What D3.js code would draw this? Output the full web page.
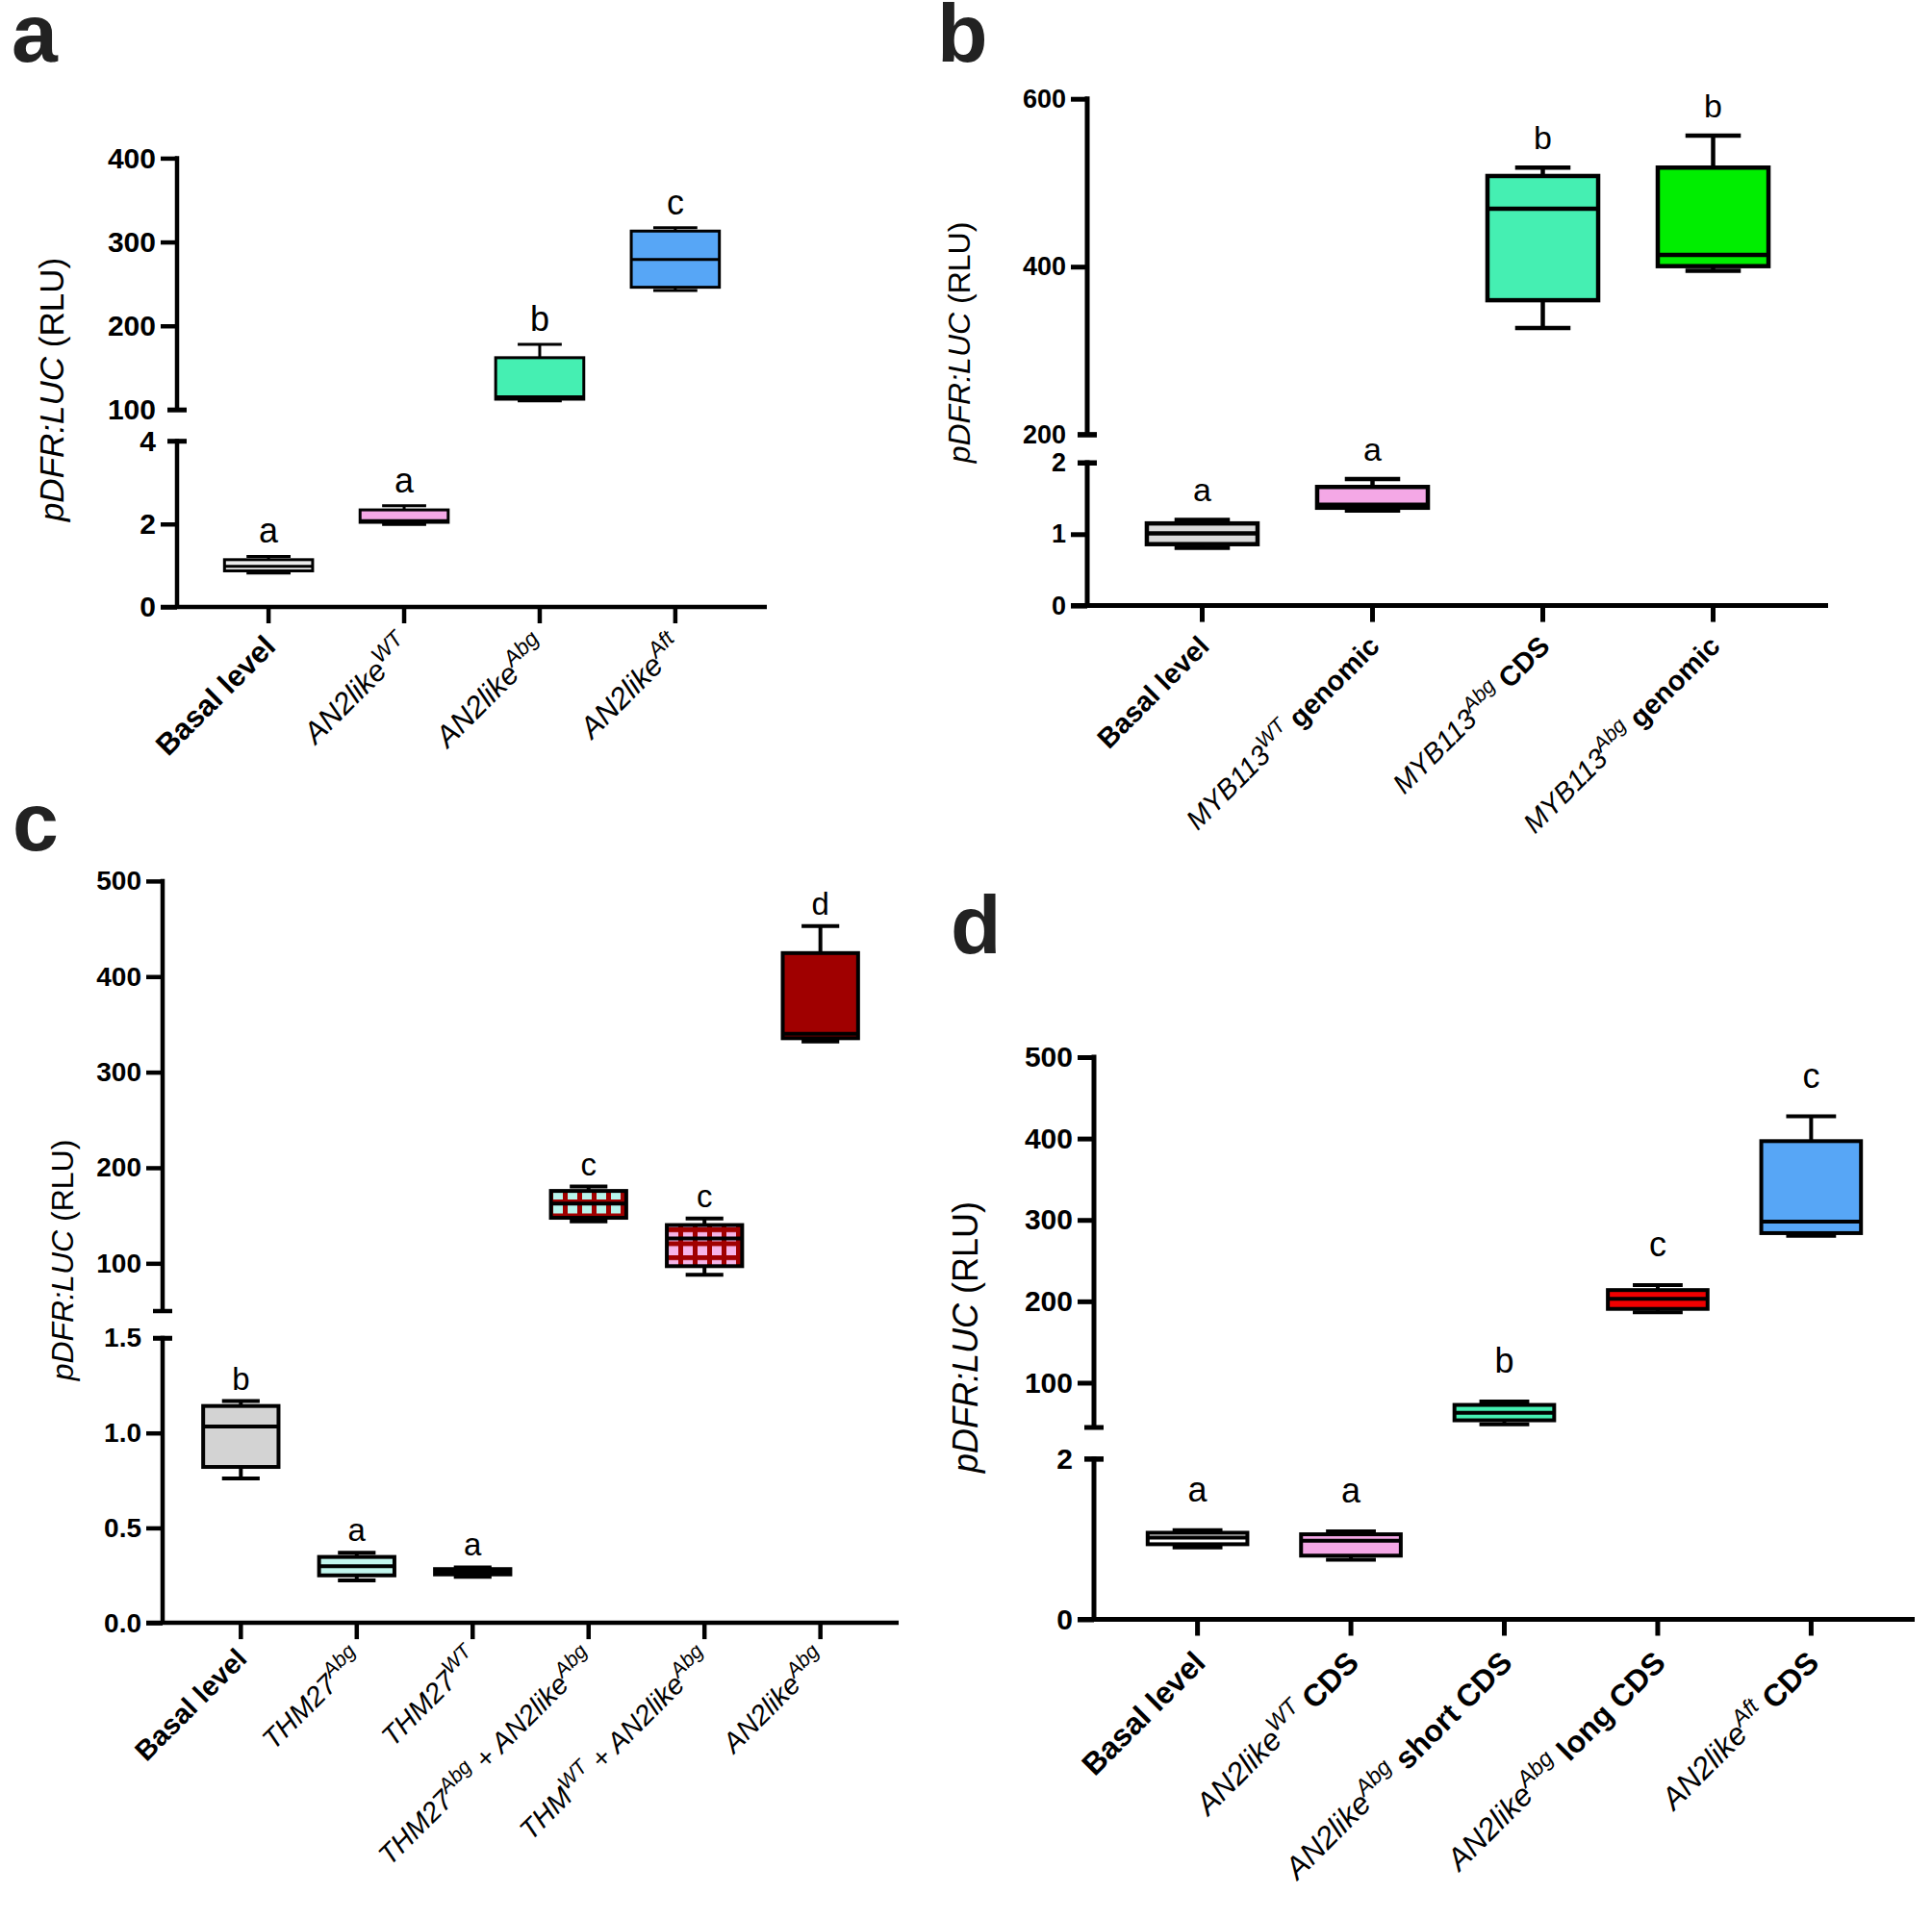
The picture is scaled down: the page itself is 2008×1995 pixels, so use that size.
<!DOCTYPE html>
<html>
<head>
<meta charset="utf-8">
<script src="https://cdn.jsdelivr.net/npm/d3@7"></script>
<style>
body { margin: 0; background: #fff; }
svg { display: block; }
text { font-family: "Liberation Sans", Arial, sans-serif; white-space: pre; }
</style>
</head>
<body>
<svg id="fig" width="2008" height="1995"></svg>
<script>
// ---- panel a data ----
var aLabels = ["<b>Basal level</b>", "<i>AN2like</i><sup>WT</sup>", "<i>AN2like</i><sup>Abg</sup>", "<i>AN2like</i><sup>Aft</sup>"];
var aMin = [0.82, 1.99, 110.5, 242];
var aQ1 = [0.87, 2.04, 112.5, 246];
var aMed = [0.98, 2.08, 115.5, 279];
var aQ3 = [1.14, 2.34, 162, 313];
var aMax = [1.22, 2.44, 178, 317];
var aLetters = ["a", "a", "b", "c"];
var aUpperTicks = [100, 200, 300, 400];
var aLowerTicks = [0, 2, 4];

// ---- panel b data ----
var bLabels = ["<b>Basal level</b>", "<i>MYB113</i><sup>WT</sup><b> genomic</b>", "<i>MYB113</i><sup>Abg</sup><b> CDS</b>", "<i>MYB113</i><sup>Abg</sup><b> genomic</b>"];
var bMin = [0.81, 1.33, 327, 395];
var bQ1 = [0.86, 1.37, 360, 400.6];
var bMed = [1.01, 1.41, 469, 414];
var bQ3 = [1.15, 1.66, 508, 518];
var bMax = [1.2, 1.77, 518, 556];
var bLetters = ["a", "a", "b", "b"];
var bUpperTicks = [200, 400, 600];
var bLowerTicks = [0, 1, 2];

// ---- panel c data ----
var cLabels = ["<b>Basal level</b>", "<i>THM27</i><sup>Abg</sup>", "<i>THM27</i><sup>WT</sup>", "<i>THM27</i><sup>Abg</sup><i> + AN2like</i><sup>Abg</sup>", "<i>THM</i><sup>WT</sup><i> + AN2like</i><sup>Abg</sup>", "<i>AN2like</i><sup>Abg</sup>"];
var cMin = [0.761, 0.224, 0.243, 143.8, 88, 332];
var cQ1 = [0.821, 0.25, 0.255, 147.6, 97, 335.5];
var cMed = [1.034, 0.298, 0.27, 162.4, 126, 340];
var cQ3 = [1.142, 0.347, 0.283, 175.7, 140, 424.6];
var cMax = [1.168, 0.369, 0.292, 180.3, 146.8, 452.8];
var cLetters = ["b", "a", "a", "c", "c", "d"];
var cUpperTicks = [100, 200, 300, 400, 500];
var cLowerTicks = [0, 0.5, 1.0, 1.5];

// ---- panel d data ----
var dLabels = ["<b>Basal level</b>", "<i>AN2like</i><sup>WT</sup><b> CDS</b>", "<i>AN2like</i><sup>Abg</sup><b> short CDS</b>", "<i>AN2like</i><sup>Abg</sup><b> long CDS</b>", "<i>AN2like</i><sup>Aft</sup><b> CDS</b>"];
var dMin = [0.895, 0.744, 48.9, 186.5, 280.5];
var dQ1 = [0.936, 0.794, 53.8, 190.7, 283.8];
var dMed = [1.02, 0.98, 63, 203, 297.9];
var dQ3 = [1.079, 1.06, 72.7, 213.8, 396.8];
var dMax = [1.11, 1.096, 76.9, 220, 427.3];
var dLetters = ["a", "a", "b", "c", "c"];
var dUpperTicks = [100, 200, 300, 400, 500];
var dLowerTicks = [0, 2];

// ---- fills (style) ----
var aFills = ["#ececec", "#f4a8e6", "#45efb2", "#57a6f6"];
var bFills = ["#d9d9d9", "#f4a8e6", "#45efb2", "#00ee00"];
var cFills = ["#d3d3d3", "#c2f6ee", "#c2c2c2", "url(#gridCyan)", "url(#gridPink)", "#a00000"];
var dFills = ["#ffffff", "#f4a8e6", "#45efb2", "#f00000", "#57a6f6"];

var svg = d3.select("#fig");
var defs = svg.append("defs");

function gridPattern(id, bg) {
    var p = defs.append("pattern").attr("id", id)
        .attr("patternUnits", "userSpaceOnUse")
        .attr("width", 15).attr("height", 14.5);
    p.append("rect").attr("width", 15).attr("height", 14.5).attr("fill", bg);
    p.append("rect").attr("x", 0).attr("width", 5).attr("height", 14.5).attr("fill", "#a00000");
    p.append("rect").attr("y", 0).attr("width", 15).attr("height", 5).attr("fill", "#a00000");
}
gridPattern("gridCyan", "#b8f5ec");
gridPattern("gridPink", "#f6b4e8");

// split "<i>x</i><sup>y</sup>" into styled pieces
function parseLabel(s) {
    var out = [], re = /<(b|i|sup)>(.*?)<\/\1>/g, m;
    while ((m = re.exec(s)) !== null) out.push({ t: m[2], s: m[1] });
    return out;
}

function drawPanel(p) {
    var g = svg.append("g");
    var L = p.layout;
    var n = p.labels.length;

    var x = d3.scalePoint().domain(d3.range(n)).range([L.axisX, L.xEnd]).padding(0.675);
    var step = x.step();
    var boxW = step * 0.65;

    var yUp = d3.scaleLinear().domain(p.upperDomain).range([L.upBottom, L.upTop]);
    var yLo = d3.scaleLinear().domain(p.lowerDomain).range([L.loBottom, L.loTop]);
    function y(v) { return v >= p.upperDomain[0] ? yUp(v) : yLo(v); }

    var fmt = p.lowerFmt || d3.format("d");

    // y axis segments
    var upAxis = g.append("g").attr("transform", "translate(" + L.axisX + ",0)")
        .call(d3.axisLeft(yUp).tickValues(p.upperTicks).tickSize(17).tickSizeOuter(0).tickPadding(5).tickFormat(d3.format("d")));
    var loAxis = g.append("g").attr("transform", "translate(" + L.axisX + ",0)")
        .call(d3.axisLeft(yLo).tickValues(p.lowerTicks).tickSize(17).tickSizeOuter(0).tickPadding(5).tickFormat(fmt));
    [upAxis, loAxis].forEach(function (ax) {
        ax.select(".domain").remove();
        ax.selectAll(".tick line").attr("stroke", "#000").attr("stroke-width", L.axisW);
        ax.selectAll(".tick text").attr("fill", "#000").attr("font-size", L.tickFs)
            .attr("font-weight", "bold").style("font-family", "'Liberation Sans', Arial, sans-serif");
    });
    // break ends get a centred cap instead of a left tick
    upAxis.selectAll(".tick line").filter(function (d) { return d === p.upperDomain[0]; }).attr("x1", 10).attr("x2", -10);
    loAxis.selectAll(".tick line").filter(function (d) { return d === p.lowerDomain[1]; }).attr("x1", 10).attr("x2", -10);

    g.append("line").attr("x1", L.axisX).attr("x2", L.axisX)
        .attr("y1", yUp(p.upperDomain[1]) - L.axisW / 2).attr("y2", yUp(p.upperDomain[0]))
        .attr("stroke", "#000").attr("stroke-width", L.axisW);
    g.append("line").attr("x1", L.axisX).attr("x2", L.axisX)
        .attr("y1", yLo(p.lowerDomain[1]) - L.axisW / 2).attr("y2", yLo(0))
        .attr("stroke", "#000").attr("stroke-width", L.axisW);
    [yUp(p.upperDomain[0]), yLo(p.lowerDomain[1])].forEach(function (yy) {
        g.append("line").attr("x1", L.axisX - 10).attr("x2", L.axisX + 10)
            .attr("y1", yy).attr("y2", yy).attr("stroke", "#000").attr("stroke-width", L.axisW);
    });

    // x axis
    var base = yLo(0);
    g.append("line").attr("x1", L.axisX - 17).attr("x2", L.xEnd)
        .attr("y1", base).attr("y2", base).attr("stroke", "#000").attr("stroke-width", L.axisW);
    g.selectAll(".xt").data(d3.range(n)).enter().append("line")
        .attr("x1", function (i) { return x(i); }).attr("x2", function (i) { return x(i); })
        .attr("y1", base).attr("y2", base + 17)
        .attr("stroke", "#000").attr("stroke-width", L.axisW);

    // x labels
    g.selectAll(".xl").data(p.labels).enter().append("text")
        .attr("transform", function (d, i) {
            return "translate(" + (x(i) + L.lblDx) + "," + (base + 17 + L.lblDy) + ") rotate(-45)";
        })
        .attr("text-anchor", "end").attr("font-size", L.lblFs)
        .each(function (d) {
            var t = d3.select(this), raised = false, up = L.lblFs * 0.4;
            parseLabel(d).forEach(function (part) {
                var ts = t.append("tspan").text(part.t);
                if (part.s === "b") ts.attr("font-weight", "bold");
                if (part.s === "i" || part.s === "sup") ts.attr("font-style", "italic");
                if (part.s === "sup") {
                    ts.attr("font-size", L.lblFs * 0.74).attr("dy", -up);
                    raised = true;
                } else if (raised) {
                    ts.attr("dy", up);
                    raised = false;
                }
            });
        });

    // boxes
    var boxes = g.selectAll(".box").data(d3.range(n)).enter().append("g");
    boxes.append("line")
        .attr("x1", function (i) { return x(i); }).attr("x2", function (i) { return x(i); })
        .attr("y1", function (i) { return y(p.max[i]); }).attr("y2", function (i) { return y(p.min[i]); })
        .attr("stroke", "#000").attr("stroke-width", L.boxW);
    boxes.append("line")
        .attr("x1", function (i) { return x(i) - boxW / 4; }).attr("x2", function (i) { return x(i) + boxW / 4; })
        .attr("y1", function (i) { return y(p.max[i]); }).attr("y2", function (i) { return y(p.max[i]); })
        .attr("stroke", "#000").attr("stroke-width", L.boxW);
    boxes.append("line")
        .attr("x1", function (i) { return x(i) - boxW / 4; }).attr("x2", function (i) { return x(i) + boxW / 4; })
        .attr("y1", function (i) { return y(p.min[i]); }).attr("y2", function (i) { return y(p.min[i]); })
        .attr("stroke", "#000").attr("stroke-width", L.boxW);
    boxes.append("rect")
        .attr("x", function (i) { return x(i) - boxW / 2; })
        .attr("width", boxW)
        .attr("y", function (i) { return y(p.q3[i]); })
        .attr("height", function (i) { return y(p.q1[i]) - y(p.q3[i]); })
        .attr("fill", function (i) { return p.fills[i]; })
        .attr("stroke", "#000").attr("stroke-width", L.boxW);
    boxes.append("line")
        .attr("x1", function (i) { return x(i) - boxW / 2; }).attr("x2", function (i) { return x(i) + boxW / 2; })
        .attr("y1", function (i) { return y(p.med[i]); }).attr("y2", function (i) { return y(p.med[i]); })
        .attr("stroke", "#000").attr("stroke-width", L.boxW);

    // significance letters
    g.selectAll(".let").data(p.letters).enter().append("text")
        .attr("x", function (d, i) { return x(i); })
        .attr("y", function (d, i) { return y(p.max[i]) - L.letGap; })
        .attr("text-anchor", "middle").attr("font-size", L.letFs)
        .text(function (d) { return d; });

    // y title
    var yt = g.append("text")
        .attr("transform", "translate(" + L.titleX + "," + L.titleY + ") rotate(-90)")
        .attr("text-anchor", "middle").attr("font-size", L.titleFs);
    yt.append("tspan").attr("font-style", "italic").text("pDFR:LUC");
    yt.append("tspan").text(" (RLU)");

    // panel letter
    svg.append("text").attr("x", L.tagX).attr("y", L.tagY)
        .attr("font-size", 86).attr("font-weight", "bold").attr("fill", "#222")
        .text(p.tag);
}

drawPanel({
    tag: "a", labels: aLabels, min: aMin, q1: aQ1, med: aMed, q3: aQ3, max: aMax,
    letters: aLetters, fills: aFills, upperTicks: aUpperTicks, lowerTicks: aLowerTicks,
    upperDomain: [100, 400], lowerDomain: [0, 4],
    layout: { axisX: 184, xEnd: 797, upTop: 164.4, upBottom: 425.9, loTop: 458.5, loBottom: 631,
        axisW: 4.5, boxW: 3, tickFs: 30, lblFs: 31, lblDx: 9, lblDy: 26, letFs: 36, letGap: 14,
        titleX: 66, titleY: 405, titleFs: 35, tagX: 12, tagY: 64 }
});
drawPanel({
    tag: "b", labels: bLabels, min: bMin, q1: bQ1, med: bMed, q3: bQ3, max: bMax,
    letters: bLetters, fills: bFills, upperTicks: bUpperTicks, lowerTicks: bLowerTicks,
    upperDomain: [200, 600], lowerDomain: [0, 2],
    layout: { axisX: 1130, xEnd: 1900, upTop: 102.7, upBottom: 451.7, loTop: 481, loBottom: 629.6,
        axisW: 5, boxW: 4.5, tickFs: 27, lblFs: 29, lblDx: 9, lblDy: 27, letFs: 34, letGap: 19,
        titleX: 1008, titleY: 356, titleFs: 32, tagX: 974, tagY: 64 }
});
drawPanel({
    tag: "c", labels: cLabels, min: cMin, q1: cQ1, med: cMed, q3: cQ3, max: cMax,
    letters: cLetters, fills: cFills, upperTicks: cUpperTicks, lowerTicks: cLowerTicks,
    upperDomain: [50, 500], lowerDomain: [0, 1.5], lowerFmt: d3.format(".1f"),
    layout: { axisX: 169, xEnd: 934, upTop: 915.9, upBottom: 1363, loTop: 1391, loBottom: 1687.1,
        axisW: 4.5, boxW: 4, tickFs: 28, lblFs: 29, lblDx: 8, lblDy: 22, letFs: 33, letGap: 12,
        titleX: 76, titleY: 1310, titleFs: 32, tagX: 13, tagY: 884 }
});
drawPanel({
    tag: "d", labels: dLabels, min: dMin, q1: dQ1, med: dMed, q3: dQ3, max: dMax,
    letters: dLetters, fills: dFills, upperTicks: dUpperTicks, lowerTicks: dLowerTicks,
    upperDomain: [45, 500], lowerDomain: [0, 2],
    layout: { axisX: 1137, xEnd: 1990, upTop: 1099, upBottom: 1484, loTop: 1516.6, loBottom: 1683.5,
        axisW: 5, boxW: 4, tickFs: 30, lblFs: 32, lblDx: 10, lblDy: 30, letFs: 36, letGap: 30,
        titleX: 1016, titleY: 1390, titleFs: 36, tagX: 988, tagY: 991 }
});
</script>
</body>
</html>
